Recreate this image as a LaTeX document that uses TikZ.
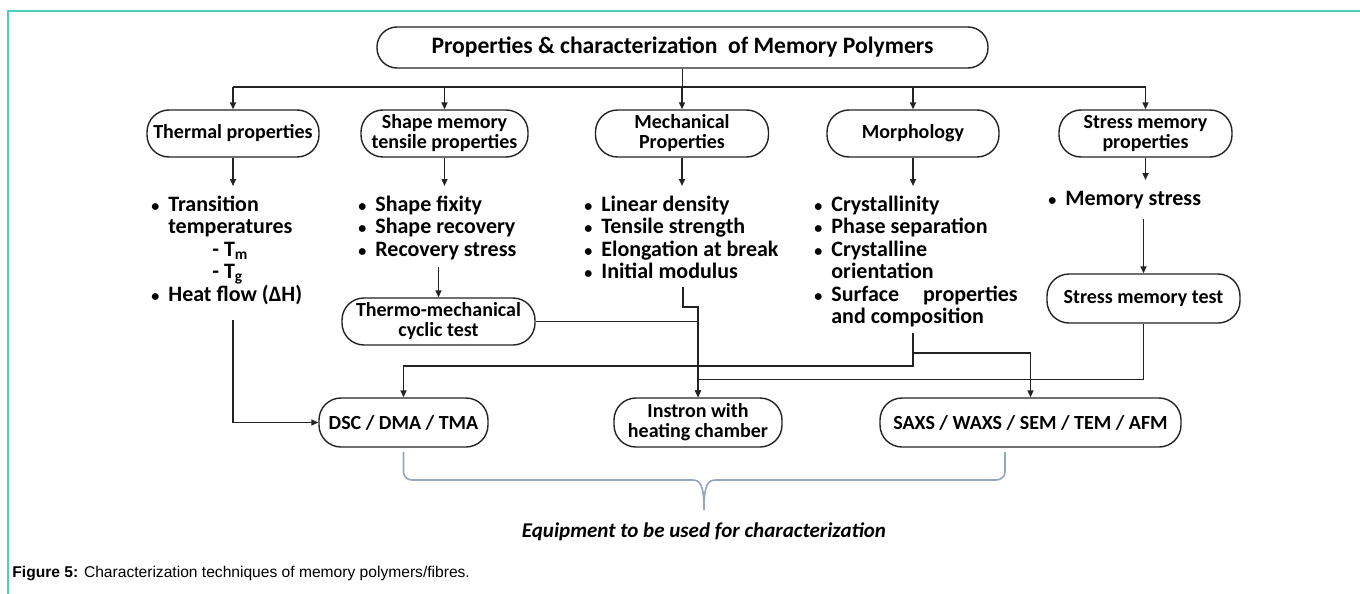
\documentclass[tikz,border=0pt]{standalone}
\usepackage{fontspec}
\setmainfont{Carlito}
\newfontfamily\captionfont{Liberation Sans}
\usepackage{xcolor}
\definecolor{cteal}{RGB}{72,208,192}
\definecolor{cline}{RGB}{35,35,35}
\definecolor{cbrace}{RGB}{150,166,186}
\usetikzlibrary{arrows.meta}
\newcommand{\bul}{{\fontsize{8}{8}\selectfont\textbullet}}
\tikzset{
Box/.style={
	draw=cline, line width=0.7pt,
	rounded corners=11pt,
	align=center, inner sep=0pt,
	minimum height=23.5pt,
	font=\bfseries\fontsize{10}{10}\selectfont
},
TallBox/.style={
	Box,
	minimum height=24.5pt
},
TitleBox/.style={
	Box,
	rounded corners=10pt,
	minimum height=20.5pt,
	font=\bfseries\fontsize{11.8}{13}\selectfont
},
BulletList/.style={
	anchor=north west,
	inner xsep=0pt, inner ysep=4.5pt,
	font=\bfseries\fontsize{11}{11.25}\selectfont
},
Edge/.style={
	draw=cline, line width=0.75pt
},
ArrowEdge/.style={
	Edge,
	-{Triangle[length=3.5pt,width=3pt]}
},
Brace/.style={
	draw=cbrace, line width=0.8pt
},
FrameLine/.style={
	draw=cteal, line width=1pt
}
}

\begin{document}
\begin{tikzpicture}[x=0.5pt, y=-0.5pt]
	\useasboundingbox (0,0) rectangle (1360,594);
	\draw[FrameLine] (1360,11) -- (8,11) -- (8,594);

	\node[TitleBox, minimum width=305.5pt] (title) at (682.5,47.5) {Properties \& characterization\ \ of Memory Polymers};

	\node[Box, minimum width=86pt] (thermal) at (233,133.5) {Thermal properties};
	\node[Box, minimum width=83.5pt] (shapemem) at (444.5,133.5) {Shape memory\\tensile properties};
	\node[Box, minimum width=86.5pt] (mechanical) at (682,133.5) {Mechanical\\Properties};
	\node[Box, minimum width=86pt] (morphology) at (913,133.5) {Morphology};
	\node[Box, minimum width=86.5pt] (stressprop) at (1145.5,133.5) {Stress memory\\properties};

	\node[BulletList] (thermlist) at (151,186) {\begin{tabular}[t]{@{}l@{\hspace{4.5pt}}l@{}}
		\bul & Transition\\
		 & temperatures\\
		 & \hspace{22pt}- T\textsubscript{m}\\
		 & \hspace{22pt}- T\textsubscript{g}\\
		\bul & Heat flow (ΔH)
	\end{tabular}};
	\node[BulletList] (shapelist) at (358,186) {\begin{tabular}[t]{@{}l@{\hspace{4.5pt}}l@{}}
		\bul & Shape fixity\\
		\bul & Shape recovery\\
		\bul & Recovery stress
	\end{tabular}};
	\node[BulletList] (mechlist) at (584,186) {\begin{tabular}[t]{@{}l@{\hspace{4.5pt}}l@{}}
		\bul & Linear density\\
		\bul & Tensile strength\\
		\bul & Elongation at break\\
		\bul & Initial modulus
	\end{tabular}};
	\node[BulletList] (morphlist) at (814,186) {\begin{tabular}[t]{@{}l@{\hspace{4.5pt}}l@{}}
		\bul & Crystallinity\\
		\bul & Phase separation\\
		\bul & Crystalline\\
		 & orientation\\
		\bul & Surface\hspace{12pt}properties\\
		 & and composition
	\end{tabular}};
	\node[BulletList] (memlist) at (1048,180) {\begin{tabular}[t]{@{}l@{\hspace{4.5pt}}l@{}}
		\bul & Memory stress
	\end{tabular}};

	\node[Box, minimum width=96.5pt] (thermo) at (438.5,321.5) {Thermo-mechanical\\cyclic test};
	\node[TallBox, minimum width=96.5pt] (stresstest) at (1143.5,298.5) {Stress memory test};

	\node[TallBox, minimum width=84.5pt] (dsc) at (403.5,422.5) {DSC / DMA / TMA};
	\node[TallBox, minimum width=84pt] (instron) at (698,422.5) {Instron with\\heating chamber};
	\node[TallBox, minimum width=150.5pt] (saxs) at (1030.5,422.5) {SAXS / WAXS / SEM / TEM / AFM};

	% top level bus
	\coordinate (bus) at (682.5,87);
	\draw[Edge] (title.south) -- (bus);
	\draw[Edge] (bus -| thermal.north) -- (bus -| stressprop.north);
	\draw[ArrowEdge] (bus -| thermal.north) -- (thermal.north);
	\draw[ArrowEdge] (bus -| shapemem.north) -- (shapemem.north);
	\draw[ArrowEdge] (bus -| mechanical.north) -- (mechanical.north);
	\draw[ArrowEdge] (bus -| morphology.north) -- (morphology.north);
	\draw[ArrowEdge] (bus -| stressprop.north) -- (stressprop.north);

	\draw[ArrowEdge] (thermal.south) -- (thermal.south |- thermlist.north);
	\draw[ArrowEdge] (shapemem.south) -- (shapemem.south |- shapelist.north);
	\draw[ArrowEdge] (mechanical.south) -- (mechanical.south |- mechlist.north);
	\draw[ArrowEdge] (morphology.south) -- (morphology.south |- morphlist.north);
	\draw[ArrowEdge] (stressprop.south) -- (stressprop.south |- memlist.north);

	% to the equipment
	\coordinate (thermOut) at (233,320);
	\coordinate (shapeOut) at (438.5,267);
	\coordinate (mechOut) at (683,287);
	\coordinate (morphOut) at (913,333);
	\coordinate (memOut) at (1143.5,219);
	\draw[ArrowEdge] (thermOut) |- (dsc.west);
	\draw[ArrowEdge] (shapeOut) -- (thermo.north);
	\draw[Edge] (thermo.east) -- (thermo.east -| instron.north);
	\draw[ArrowEdge] (mechOut) -- ++(0,20) -| (instron.north);
	\draw[ArrowEdge] (morphOut) -- ++(0,33) -| (dsc.north);
	\draw[ArrowEdge] (morphOut) -- ++(0,20) -| (saxs.north);
	\draw[ArrowEdge] (memOut) -- (stresstest.north);
	\draw[ArrowEdge] (stresstest.south) -- ++(0,56) -| (instron.north);

	% brace under the equipment
	\draw[Brace] (403.5,452) -- (403.5,472) to[out=-90,in=180] (412,480) -- (692,480)
		.. controls (700,480) and (704,484) .. (704,510)
		.. controls (704,484) and (708,480) .. (716,480) -- (996,480)
		to[out=0,in=-90] (1005,472) -- (1005,452);
	\node[font=\bfseries\itshape\fontsize{10.5}{13}\selectfont] (equip) at (704,532) {Equipment to be used for characterization};

	\node[anchor=base west, inner sep=0pt, font=\captionfont\fontsize{7.8}{9}\selectfont] (caption) at (12,577) {\textbf{Figure 5:} Characterization techniques of memory polymers/fibres.};
\end{tikzpicture}
\end{document}
